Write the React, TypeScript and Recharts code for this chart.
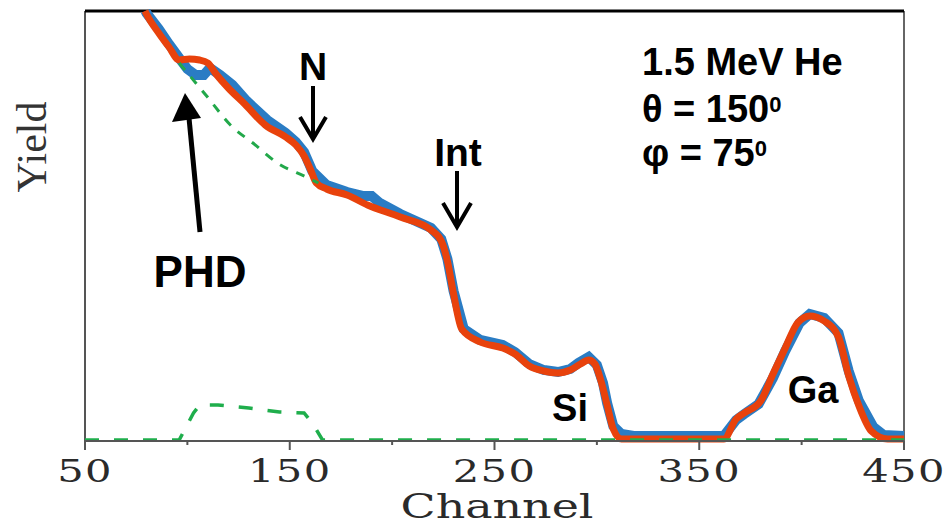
import React from 'react';
import { LineChart, Line, XAxis, YAxis, ReferenceLine } from 'recharts';

// channel / yield pairs
const fitChannel = [79.3, 80, 86, 91, 96, 101, 106, 110, 114, 120, 128, 138, 148, 153, 157, 160, 163, 168, 178, 188, 204, 219, 224, 227, 230, 234, 243, 254, 260, 267, 274, 281, 287, 292, 296, 299, 302, 305, 308, 312, 362, 368, 372, 380, 386, 392, 398, 404, 411, 418, 423, 428, 434, 442, 450];
const fitYield = [430, 427, 408, 394, 381, 382, 381, 378, 367, 353, 337, 316, 304, 296, 285, 272, 258, 252, 246, 236, 224, 211, 200, 180, 147, 112, 99, 93, 87, 75, 70, 68, 71, 77, 81, 77, 60, 36, 12, 2, 2, 22, 28, 40, 67, 93, 118, 125, 120, 104, 65, 35, 10, 2, 2];

const dataChannel = [79.6, 80, 86, 91, 96, 100, 104, 108, 111, 116, 122, 129, 139, 148, 153, 157, 161, 168, 178, 186, 190, 194, 204, 219, 224, 227, 230, 235, 243, 254, 260, 267, 274, 281, 287, 291, 296, 300, 303, 305, 308, 312, 318, 362, 368, 372, 379, 386, 392, 399, 404, 411, 418, 423, 428, 435, 440, 450];
const dataYield = [430, 428, 412, 397, 383, 372, 366, 366, 373, 366, 356, 340, 321, 308, 299, 289, 270, 256, 249, 245, 245, 238, 227, 213, 202, 182, 150, 112, 101, 96, 89, 77, 71, 69, 72, 78, 84, 76, 58, 38, 15, 7, 5, 5, 21, 27, 37, 63, 90, 118, 127, 123, 108, 70, 40, 14, 6, 5];

// simulation without pulse-height defect (upper dashed)
const simChannel = [96, 109, 122, 132, 144, 158, 164];
const simYield = [378, 346, 314, 298, 278, 264, 258];

// pulse-height-defect component (lower dashed)
const phdChannel = [50, 96, 103, 106, 115, 130, 145, 157, 161, 166, 450];
const phdYield = [1, 1, 28, 36, 36, 33, 29, 28, 18, 1, 1];

const tickValues = [50, 100, 150, 200, 250, 300, 350, 400, 450];
const tickLabels = ['50', '150', '250', '350', '450'];

const toRows = (xs: number[], ys: number[]) => xs.map((x, i) => ({ channel: x, yield: ys[i] }));

const fitRows = toRows(fitChannel, fitYield);
const dataRows = toRows(dataChannel, dataYield);
const simRows = toRows(simChannel, simYield);
const phdRows = toRows(phdChannel, phdYield);

const AxisTick = (props: any) => {
  const { x, y, payload } = props;
  const label = String(payload.value);
  const major = tickLabels.includes(label);
  return (
    <g>
      <line x1={x} x2={x} y1={y} y2={y + (major ? 9 : 4)} stroke="#555" strokeWidth={2} />
      {major && (
        <text
          transform={`translate(${x},${y + 41}) scale(1.3,1)`}
          textAnchor="middle"
          fontFamily="DejaVu Serif"
          fontSize={32}
          letterSpacing={1}
          fill="#2a2a2a"
        >
          {label}
        </text>
      )}
    </g>
  );
};

const bold = { fontFamily: 'Liberation Sans, Arial, sans-serif', fontWeight: 700, fill: '#000' } as const;

const App = () => {
  return (
    <div style={{ position: 'absolute', left: 0, top: 0, width: 948, height: 525, background: '#fff' }}>
      <LineChart width={948} height={525} margin={{ top: 11, right: 44, bottom: 14, left: 85 }}>
        <XAxis
          type="number"
          dataKey="channel"
          domain={[50, 450]}
          ticks={tickValues}
          tick={<AxisTick />}
          tickLine={false}
          tickSize={0}
          tickMargin={0}
          height={70}
          axisLine={{ stroke: '#555', strokeWidth: 2 }}
        />
        <YAxis hide type="number" domain={[0, 430]} />
        <ReferenceLine x={50} stroke="#555" strokeWidth={2} />
        <ReferenceLine x={450} stroke="#666" strokeWidth={2} />
        <ReferenceLine y={430} stroke="#000" strokeWidth={3} />
        <Line data={dataRows} dataKey="yield" type="linear" stroke="#2a7cc4" strokeWidth={10} dot={false} isAnimationActive={false} />
        <Line data={fitRows} dataKey="yield" type="monotone" stroke="#e8420c" strokeWidth={7} dot={false} isAnimationActive={false} />
        <Line data={simRows} dataKey="yield" type="monotone" stroke="#22a84a" strokeWidth={3} strokeDasharray="9 9" dot={false} isAnimationActive={false} />
        <Line data={phdRows} dataKey="yield" type="linear" stroke="#1fae4c" strokeWidth={3.5} strokeDasharray="14 15" dot={false} isAnimationActive={false} />
      </LineChart>
      <svg width={948} height={525} style={{ position: 'absolute', left: 0, top: 0, pointerEvents: 'none' }}>
        <text transform="translate(46,147) rotate(-90)" textAnchor="middle" fontFamily="Liberation Serif" fontSize={42} fill="#333">
          Yield
        </text>
        <text transform="translate(497,518) scale(1.35,1)" textAnchor="middle" fontFamily="DejaVu Serif" fontSize={34} fill="#2a2a2a">
          Channel
        </text>

        <text x={313} y={80} textAnchor="middle" fontSize={39} {...bold}>N</text>
        <g stroke="#000" strokeWidth={4} fill="none">
          <line x1={313} y1={86} x2={313} y2={139} />
          <polyline points="300,117 313,139 326,117" />
        </g>

        <text x={458} y={166} textAnchor="middle" fontSize={39} {...bold}>Int</text>
        <g stroke="#000" strokeWidth={4} fill="none">
          <line x1={457} y1={171} x2={457} y2={227} />
          <polyline points="443,203 457,227 471,203" />
        </g>

        <text x={200} y={287} textAnchor="middle" fontSize={44} {...bold}>PHD</text>
        <line x1={200} y1={232} x2={189} y2={118} stroke="#000" strokeWidth={5} />
        <polygon points="185,93 172,122 201,118" fill="#000" />

        <text x={570} y={421} textAnchor="middle" fontSize={38} {...bold}>Si</text>
        <text x={813} y={403} textAnchor="middle" fontSize={38} {...bold}>Ga</text>

        <text x={642} y={75} fontSize={38} {...bold}>1.5 MeV He</text>
        <text x={642} y={122} fontSize={38} {...bold}>
          θ = 150<tspan fontSize={22} dy={-10}>0</tspan>
        </text>
        <text x={642} y={166} fontSize={38} {...bold}>
          φ = 75<tspan fontSize={22} dy={-10}>0</tspan>
        </text>
      </svg>
    </div>
  );
};

export default App;
